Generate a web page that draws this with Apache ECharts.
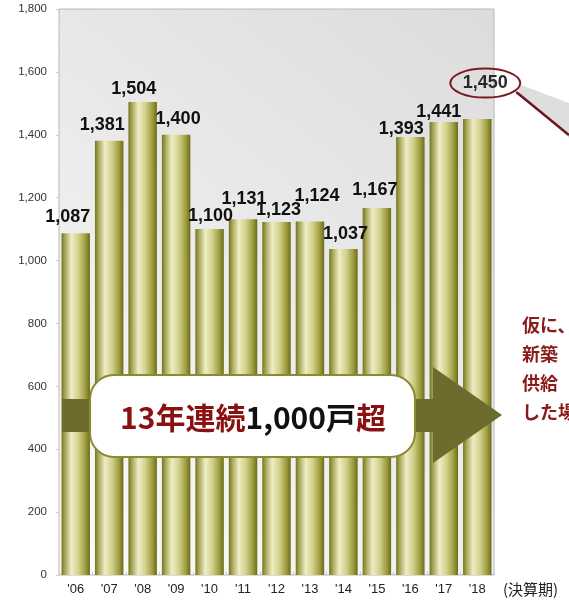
<!DOCTYPE html>
<html>
<head>
<meta charset="utf-8">
<script src="https://cdn.jsdelivr.net/npm/echarts@6/dist/echarts.min.js"></script>
<style>
html,body{margin:0;padding:0;background:#fff;}
#c{width:569px;height:601px;}
</style>
</head>
<body>
<div id="c"></div>
<script>
const categories = ["'06","'07","'08","'09","'10","'11","'12","'13","'14","'15","'16","'17","'18"];
const values = [1087,1381,1504,1400,1100,1131,1123,1124,1037,1167,1393,1441,1450];
const yMin = 0, yMax = 1800, yStep = 200;
const periodLabel = '(決算期)';
const calloutParts = ['13年連続', '1,000戸', '超'];
const sideLines = ['仮に、', '新築', '供給', 'した場'];
// label nudges (style only)
const labelNudge = [[-8,0],[-7,0],[-9,3],[2,0],[1,3],[1,-4],[2,4],[7,-10],[2,1],[-2,-2],[-9,8],[-5,6],[8,-20]];

const chart = echarts.init(document.getElementById('c'), null, {renderer:'canvas'});
const barGrad = new echarts.graphic.LinearGradient(0,0,1,0,[
  {offset:0, color:'#74741f'},
  {offset:0.12, color:'#a6a556'},
  {offset:0.35, color:'#efedc4'},
  {offset:0.6, color:'#d3d08c'},
  {offset:0.85, color:'#9c9b3c'},
  {offset:1, color:'#6b6a1c'}
]);
const fontEn = 'Liberation Sans, Arial, sans-serif';
const data = values.map((v,i)=>{
  const item = {value:v, label:{offset:labelNudge[i]}};
  if (i === values.length-1) { item.label.color = '#2a2a2a'; }
  return item;
});

const option = {
  animation:false,
  grid:{left:59, right:75, top:9, bottom:26, show:true, borderColor:'#b8b8b8', borderWidth:1,
    backgroundColor: new echarts.graphic.LinearGradient(1,0,0,1,[{offset:0,color:'#dcdcdc'},{offset:0.5,color:'#ebebeb'},{offset:1,color:'#fbfbf6'}])},
  xAxis:{type:'category', data:categories,
    axisLine:{show:false}, axisTick:{show:true, inside:true, length:3, lineStyle:{color:'#c8c8c8'}},
    axisLabel:{color:'#222', fontSize:13, fontFamily:fontEn, margin:8}},
  yAxis:{type:'value', min:yMin, max:yMax, interval:yStep,
    axisLine:{show:false}, axisTick:{show:true, length:3, lineStyle:{color:'#d0d0d0'}},
    splitLine:{show:false},
    axisLabel:{color:'#333', fontSize:11.5, fontFamily:fontEn, margin:12, formatter:v=>v.toLocaleString('en-US')}},
  series:[{type:'bar', data:data, barCategoryGap:'15%',
    itemStyle:{color:barGrad},
    label:{show:true, position:'top', distance:7, fontSize:18, fontWeight:'bold', color:'#111', fontFamily:fontEn,
      formatter:p=>p.value.toLocaleString('en-US')}}]
};
chart.setOption(option);

const last = values.length-1;
const barTop = chart.convertToPixel({xAxisIndex:0,yAxisIndex:0},[categories[last], values[last]]);
const ex = barTop[0]+8, ey = barTop[1]-7-9-20;
const cjk = '"Noto Sans CJK JP", sans-serif';
chart.setOption({graphic:[
  {type:'polygon', z:90, shape:{points:[[ex+33,ey+1],[569,ey+20],[569,ey+55],[ex+34,ey+11]]}, style:{fill:'#dedede'}},
  {type:'line', z:92, shape:{x1:ex+31,y1:ey+9,x2:569,y2:ey+52}, style:{stroke:'#6a1520', lineWidth:2.5}},
  {type:'ellipse', z:95, shape:{cx:ex, cy:ey, rx:35, ry:14.5}, style:{fill:'rgba(0,0,0,0)', stroke:'#7a1a22', lineWidth:2}},
  {type:'rect', z:100, shape:{x:62, y:399, width:372, height:33}, style:{fill:'#6d6c2e'}},
  {type:'polygon', z:100, shape:{points:[[433,367],[502,415],[433,463]]}, style:{fill:'#6d6c2e'}},
  {type:'rect', z:101, shape:{x:90, y:375, width:325, height:82, r:24}, style:{fill:'#fff', stroke:'#8a8a2e', lineWidth:2}},
  {type:'text', z:102, x:253, y:418, style:{
    text:'{a|'+calloutParts[0]+'}{b|'+calloutParts[1]+'}{a|'+calloutParts[2]+'}',
    align:'center', verticalAlign:'middle',
    rich:{a:{fontSize:30, fontWeight:'bold', fill:'#8b1111', fontFamily:cjk},
          b:{fontSize:30, fontWeight:'bold', fill:'#111', fontFamily:cjk}}}},
  {type:'text', z:102, x:503, y:589, style:{text:periodLabel, fontSize:15, fill:'#222', fontFamily:cjk, verticalAlign:'middle'}},
  {type:'text', z:102, x:522, y:311, style:{text:sideLines.join('\n'), fontSize:18, lineHeight:29, fontWeight:'bold', fill:'#8b1a1a', fontFamily:cjk}}
]});
</script>
</body>
</html>
